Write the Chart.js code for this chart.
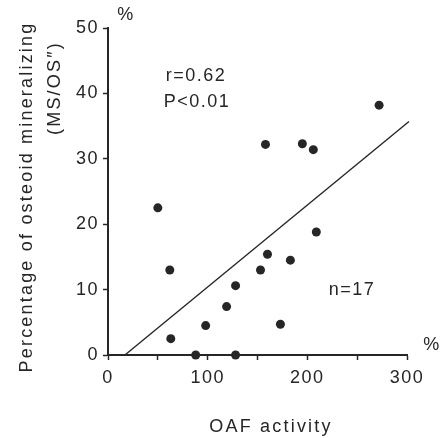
<!DOCTYPE html>
<html>
<head>
<meta charset="utf-8">
<script src="https://cdn.jsdelivr.net/npm/chart.js@4"></script>
<style>
  body { margin: 0; background: #fff; }
  canvas { display: block; }
</style>
</head>
<body>
<canvas id="myChart" width="446" height="438"></canvas>
<script>
// OAF activity vs % osteoid mineralizing (MS/OS")
var oafActivity = [50, 62, 63, 88, 98, 119, 128, 128, 153, 158, 160, 173, 183, 195, 206, 209, 272];
var msOs = [22.5, 13, 2.5, 0, 4.5, 7.4, 10.6, 0, 13, 32.2, 15.4, 4.7, 14.5, 32.3, 31.4, 18.8, 38.2];
// regression line end points
var fitX = [17, 302];
var fitY = [0, 35.7];

var xTicks = [0, 100, 200, 300];
var yTicks = [0, 10, 20, 30, 40, 50];

var ink = '#262626';
var fontName = '"Liberation Sans", Arial, sans-serif';

var points = [];
for (var i = 0; i < oafActivity.length; i++) {
    points.push({x: oafActivity[i], y: msOs[i]});
}
var line = [];
for (var j = 0; j < fitX.length; j++) {
    line.push({x: fitX[j], y: fitY[j]});
}

// spaced out lettering like the scan
var spacing = {
    id: 'spacing',
    beforeUpdate: function(chart) { chart.ctx.letterSpacing = '1.5px'; },
    beforeDraw: function(chart) { chart.ctx.letterSpacing = '1.5px'; }
};

function put(ctx, txt, x, y, size, rot) {
    ctx.save();
    ctx.translate(x, y);
    if (rot) ctx.rotate(rot);
    ctx.font = size + 'px ' + fontName;
    ctx.fillStyle = ink;
    ctx.textAlign = 'center';
    ctx.textBaseline = 'middle';
    ctx.fillText(txt, 0, 0);
    ctx.restore();
}

var labels = {
    id: 'labels',
    afterDraw: function(chart) {
        var ctx = chart.ctx;
        ctx.save();
        ctx.letterSpacing = '2.2px';
        put(ctx, 'Percentage of osteoid mineralizing', 27, 197, 18, -Math.PI / 2);
        put(ctx, '(MS/OS\u2033)', 55, 88, 18, -Math.PI / 2);
        put(ctx, 'OAF activity', 271, 427, 18);
        ctx.letterSpacing = '1.5px';
        put(ctx, 'r=0.62', 196, 76, 18);
        put(ctx, 'P<0.01', 197, 102, 18);
        put(ctx, 'n=17', 352, 290, 18);
        put(ctx, '%', 126, 15, 18);
        put(ctx, '%', 432, 345, 18);
        ctx.restore();
    }
};

var ctx = document.getElementById('myChart').getContext('2d');
var chart = new Chart(ctx, {
    type: 'scatter',
    data: {
        datasets: [
            {
                data: points,
                pointRadius: 4.5,
                pointBackgroundColor: ink,
                pointBorderColor: ink,
                pointBorderWidth: 0,
                clip: false
            },
            {
                type: 'line',
                data: line,
                borderColor: ink,
                borderWidth: 1.4,
                pointRadius: 0,
                fill: false,
                clip: false
            }
        ]
    },
    options: {
        responsive: false,
        animation: false,
        layout: {
            padding: {left: 0, right: 39, top: 28, bottom: 0}
        },
        plugins: {
            legend: {display: false},
            tooltip: {enabled: false}
        },
        scales: {
            x: {
                type: 'linear',
                min: 0,
                max: 300,
                afterFit: function(s) { s.height = 83; },
                afterBuildTicks: function(s) {
                    s.ticks = [0, 50, 100, 150, 200, 250, 300].map(function(v) { return {value: v}; });
                },
                ticks: {
                    color: ink,
                    font: {family: fontName, size: 18},
                    padding: 7,
                    maxRotation: 0,
                    callback: function(v) { return xTicks.indexOf(v) >= 0 ? v : ''; }
                },
                grid: {
                    display: true,
                    drawOnChartArea: false,
                    drawTicks: true,
                    tickLength: 5,
                    tickWidth: 1.5,
                    tickColor: ink
                },
                border: {display: true, color: ink, width: 2}
            },
            y: {
                type: 'linear',
                min: 0,
                max: 50,
                afterFit: function(s) { s.width = 108; },
                afterBuildTicks: function(s) {
                    s.ticks = yTicks.map(function(v) { return {value: v}; });
                },
                ticks: {
                    color: ink,
                    font: {family: fontName, size: 18},
                    padding: 4
                },
                grid: {
                    display: true,
                    drawOnChartArea: false,
                    drawTicks: true,
                    tickLength: 5,
                    tickWidth: 1.5,
                    tickColor: ink
                },
                border: {display: true, color: ink, width: 2}
            }
        }
    },
    plugins: [spacing, labels]
});
</script>
</body>
</html>
